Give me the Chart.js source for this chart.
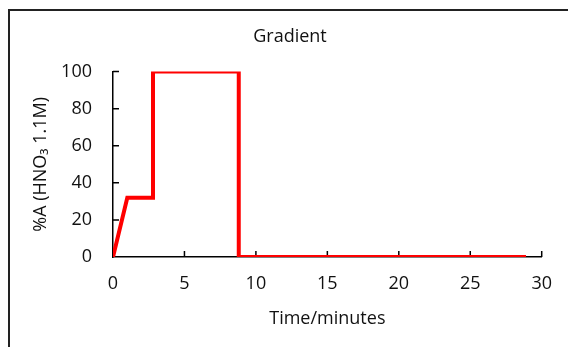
<!DOCTYPE html>
<html>
<head>
<meta charset="utf-8">
<script src="https://cdn.jsdelivr.net/npm/chart.js@4"></script>
<style>
  html, body { margin: 0; padding: 0; background: #fff; }
  .wrap { position: relative; width: 568px; height: 347px; overflow: hidden; }
  .frame { position: absolute; left: 8px; top: 9px; width: 620px; height: 400px; border: 2px solid #222; }
  canvas { position: absolute; left: 0; top: 0; }
</style>
</head>
<body>
<div class="wrap">
  <div class="frame"></div>
  <canvas id="myChart" width="568" height="347"></canvas>
</div>
<script>
// gradient program: time (min) vs %A
const times = [0, 1, 2.8, 2.8, 8.8, 8.8, 28.9];
const percentA = [0, 32, 32, 100, 100, 0, 0];
const xTicks = [0, 5, 10, 15, 20, 25, 30];
const yTicks = [0, 20, 40, 60, 80, 100];

const points = times.map((t, i) => ({ x: t, y: percentA[i] }));

// small tick marks pointing into the plot, like the original
const insideTicks = {
  id: "insideTicks",
  beforeDatasetsDraw(chart) {
    const { ctx, scales } = chart;
    const x = scales.x, y = scales.y;
    ctx.save();
    ctx.strokeStyle = "#000";
    ctx.lineWidth = 1.5;
    ctx.beginPath();
    xTicks.forEach((v) => {
      if (v === 0) return;
      const px = x.getPixelForValue(v);
      ctx.moveTo(px, y.bottom);
      ctx.lineTo(px, y.bottom - 6);
    });
    yTicks.forEach((v) => {
      if (v === 0) return;
      const py = y.getPixelForValue(v);
      ctx.moveTo(x.left, py);
      ctx.lineTo(x.left + 6, py);
    });
    ctx.stroke();
    ctx.restore();
  },
};

Chart.defaults.font.family = "'Open Sans', sans-serif";
Chart.defaults.color = "#111";

new Chart(document.getElementById("myChart"), {
  type: "line",
  data: {
    datasets: [
      {
        data: points,
        borderColor: "#ff0000",
        borderWidth: 4,
        pointRadius: 0,
        tension: 0,
        fill: false,
      },
    ],
  },
  options: {
    responsive: false,
    animation: false,
    layout: { padding: { left: 36, right: 24, top: 0, bottom: 0 } },
    scales: {
      x: {
        type: "linear",
        min: 0,
        max: 30,
        afterBuildTicks: (s) => { s.ticks = xTicks.map((v) => ({ value: v })); },
        afterFit: (s) => { s.height = 90; },
        grid: { display: false, drawTicks: false },
        border: { display: true, color: "#000", width: 1.5 },
        ticks: { padding: 16, font: { size: 18 }, maxRotation: 0 },
        title: {
          display: true,
          text: "Time/minutes",
          font: { size: 18 },
          padding: { top: 4, bottom: 17 },
        },
      },
      y: {
        min: 0,
        max: 100,
        afterBuildTicks: (s) => { s.ticks = yTicks.map((v) => ({ value: v })); },
        afterFit: (s) => { s.width = 77; },
        grid: { display: false, drawTicks: false },
        border: { display: true, color: "#000", width: 1.5 },
        ticks: { padding: 21, font: { size: 18 } },
        title: {
          display: true,
          text: "%A (HNO\u2083 1.1M)",
          font: { size: 18 },
          padding: { top: -6, bottom: 0 },
        },
      },
    },
    plugins: {
      legend: { display: false },
      tooltip: { enabled: false },
      title: {
        display: true,
        text: "Gradient",
        font: { size: 18, weight: "normal" },
        padding: { top: 26, bottom: 24 },
      },
    },
  },
  plugins: [insideTicks],
});
</script>
</body>
</html>
